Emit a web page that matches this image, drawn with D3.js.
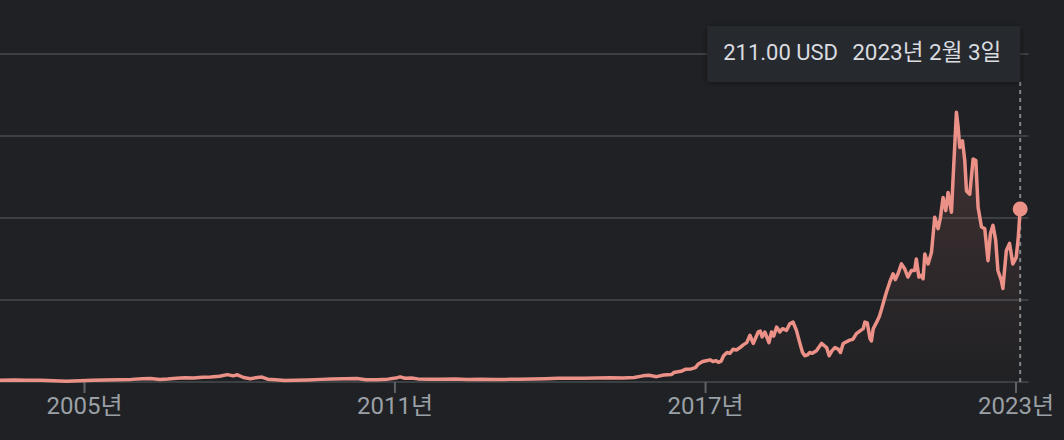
<!DOCTYPE html>
<html>
<head>
<meta charset="utf-8">
<script src="https://cdn.jsdelivr.net/npm/d3@7"></script>
<style>
  html, body { margin: 0; padding: 0; background: #202124; }
  svg { display: block; }
  text { font-family: Roboto, "Noto Sans CJK KR", "Noto Sans", sans-serif; }
</style>
</head>
<body>
<svg id="chart" width="1064" height="440"></svg>
<script>
// ---- data ----
const dates = [
  "2003-05-18","2003-09-01","2003-12-01","2004-03-01","2004-06-01","2004-09-01","2004-12-01",
  "2005-03-01","2005-06-01","2005-09-01","2005-12-01","2006-02-15","2006-04-15","2006-06-20",
  "2006-08-15","2006-10-15","2006-12-15","2007-02-15","2007-04-15","2007-06-15","2007-08-15",
  "2007-10-10","2007-11-20","2007-12-20","2008-02-01","2008-03-20","2008-05-10","2008-06-10",
  "2008-07-20","2008-09-15","2008-11-20","2009-02-01","2009-05-01","2009-08-01","2009-10-15",
  "2010-01-15","2010-04-10","2010-06-15","2010-09-01","2010-11-15","2011-01-10","2011-02-10",
  "2011-03-15","2011-05-01","2011-06-15","2011-09-01","2011-12-01","2012-03-01","2012-06-01",
  "2012-09-01","2012-12-01","2013-03-01","2013-06-01","2013-09-01","2013-12-01","2014-03-01",
  "2014-06-01","2014-09-01","2014-12-01","2015-03-01","2015-06-01","2015-08-20","2015-10-20",
  "2015-12-01","2016-01-25","2016-03-15","2016-05-10","2016-05-25","2016-07-15","2016-08-15",
  "2016-09-25","2016-10-25","2016-11-15","2016-12-15",
  "2017-01-10","2017-02-05","2017-02-25","2017-03-20","2017-04-05","2017-04-25","2017-05-12",
  "2017-06-05","2017-06-25","2017-07-19","2017-08-10","2017-09-05","2017-09-25","2017-10-22",
  "2017-11-14","2017-12-07","2018-01-11","2018-01-26","2018-02-08","2018-02-27","2018-03-28",
  "2018-04-15","2018-05-01","2018-05-21","2018-06-13","2018-07-02","2018-07-30","2018-08-22",
  "2018-09-14","2018-10-08","2018-10-31","2018-11-20","2018-12-06","2018-12-24","2019-01-10",
  "2019-01-28","2019-02-26","2019-04-03","2019-05-09","2019-05-27","2019-06-15","2019-07-06",
  "2019-07-30","2019-08-15","2019-09-03","2019-10-19","2019-11-10","2019-12-05","2020-01-22",
  "2020-02-03","2020-02-20","2020-03-10","2020-03-20","2020-04-02","2020-04-26","2020-05-15",
  "2020-05-31","2020-06-18","2020-07-05","2020-07-28","2020-08-20","2020-09-05","2020-09-24",
  "2020-10-18","2020-11-10","2020-12-03","2020-12-27","2021-01-19","2021-01-31","2021-02-18",
  "2021-03-05","2021-03-20","2021-04-01","2021-04-24","2021-05-18","2021-06-10","2021-07-04",
  "2021-07-20","2021-08-08","2021-08-27","2021-09-12","2021-10-06","2021-10-18","2021-11-10",
  "2021-11-22","2021-12-04","2021-12-23","2022-01-08","2022-01-20","2022-02-12","2022-03-08",
  "2022-03-27","2022-04-12","2022-05-06","2022-05-29","2022-06-21","2022-07-08","2022-07-26",
  "2022-08-14","2022-08-30","2022-09-23","2022-10-04","2022-10-28","2022-11-20","2022-12-13",
  "2023-01-06","2023-01-20","2023-02-03"
];
const prices = [
  2.0,2.3,2.0,2.1,1.5,1.0,1.5,
  2.0,2.3,2.7,3.2,4.0,4.4,3.0,
  3.6,4.6,5.2,5.0,5.8,6.2,7.0,
  9.0,7.5,8.8,5.5,4.0,5.5,6.0,
  3.5,2.8,1.7,2.0,2.5,3.2,3.6,
  4.0,4.3,2.8,2.6,3.5,4.8,6.3,
  4.6,5.0,3.8,3.3,3.5,3.7,3.1,
  3.4,3.0,3.2,3.5,3.8,4.0,4.5,
  4.7,4.7,5.0,5.3,5.0,5.5,7.5,
  8.2,6.5,8.5,9.2,11.5,13.0,15.5,
  16.0,17.5,22.0,25.0,
  26,27,25,26,24,25.5,32,
  36,35,40,39,42,45,48,
  57,47,61,62,55,61,48,
  61,56,67,61,65,63,71,
  73,63,48,36,32,33,36,
  35,38,47,42,32,38,42,
  40,36,47,51,52,59,65,
  73,72,53,50,65,73,80,
  89,100,110,122,132,125,132,
  144,138,128,136,136,150,128,
  130,126,156,144,158,201,187,
  200,225,209,231,207,250,329,
  311,286,294,270,233,229,272,
  270,213,189,187,148,181,191,
  173,136,124,114,160,169,144,
  152,175,211
];
const yTicks = [0, 100, 200, 300, 400];
const xTickYears = [2005, 2011, 2017, 2023];
const tooltipPrice = "211.00 USD";
const tooltipDate = "2023년 2월 3일";

// ---- chart ----
const parse = d3.timeParse("%Y-%m-%d");
const data = dates.map((d, i) => ({ date: parse(d), value: prices[i] }));

const svg = d3.select("#chart");
const plotRight = 1028.5;

const x = d3.scaleTime()
  .domain([new Date(2005, 0, 1), new Date(2023, 0, 1)])
  .range([84, 1015.5]);
const y = d3.scaleLinear().domain([0, 400]).range([382, 54]);

const defs = svg.append("defs");
const grad = defs.append("linearGradient")
  .attr("id", "areaGrad").attr("gradientUnits", "userSpaceOnUse")
  .attr("x1", 0).attr("x2", 0).attr("y1", y(330)).attr("y2", y(0));
grad.append("stop").attr("offset", "0%").attr("stop-color", "#f28b82").attr("stop-opacity", 0.17);
grad.append("stop").attr("offset", "100%").attr("stop-color", "#f28b82").attr("stop-opacity", 0.0);

const shadow = defs.append("filter").attr("id", "shadow")
  .attr("x", "-10%").attr("y", "-30%").attr("width", "120%").attr("height", "160%");
shadow.append("feDropShadow").attr("dx", 0).attr("dy", 1).attr("stdDeviation", 3)
  .attr("flood-color", "#000").attr("flood-opacity", 0.45);

// gridlines
svg.append("g").selectAll("line").data(yTicks).join("line")
  .attr("x1", 0).attr("x2", plotRight)
  .attr("y1", d => y(d)).attr("y2", d => y(d))
  .attr("stroke", "#3c4043").attr("stroke-width", 2);

// x axis
const xAxis = d3.axisBottom(x)
  .tickValues(xTickYears.map(yr => new Date(yr, 0, 1)))
  .tickFormat(d => d.getFullYear() + "년")
  .tickSize(11).tickPadding(4);
const gx = svg.append("g").attr("transform", `translate(0,${y(0)})`).call(xAxis);
gx.select(".domain").remove();
gx.selectAll(".tick line").attr("stroke", "#5f6368").attr("stroke-width", 2);
gx.selectAll(".tick text").attr("fill", "#9aa0a6").attr("font-size", 24)
  .style("font-family", 'Roboto, "Noto Sans CJK KR", sans-serif');

// area
const area = d3.area().x(d => x(d.date)).y0(y(0)).y1(d => y(d.value)).curve(d3.curveLinear);
svg.append("path").datum(data).attr("d", area).attr("fill", "url(#areaGrad)");

// hover dashed line
const last = data[data.length - 1];
svg.append("line")
  .attr("x1", x(last.date)).attr("x2", x(last.date))
  .attr("y1", 82).attr("y2", y(0))
  .attr("stroke", "#80868b").attr("stroke-width", 2).attr("stroke-dasharray", "4,4");

// line
const line = d3.line().x(d => x(d.date)).y(d => y(d.value)).curve(d3.curveLinear);
svg.append("path").datum(data).attr("d", line)
  .attr("fill", "none").attr("stroke", "#ec9187").attr("stroke-width", 3.5)
  .attr("stroke-linejoin", "round").attr("stroke-linecap", "round");

// end dot
svg.append("circle").attr("cx", x(last.date)).attr("cy", y(last.value)).attr("r", 7.5)
  .attr("fill", "#ec9187");

// tooltip
const tipRight = x(last.date);
const tip = svg.append("g");
tip.append("rect").attr("x", tipRight - 313).attr("y", 26).attr("width", 313).attr("height", 56)
  .attr("fill", "#28292d").attr("filter", "url(#shadow)");
tip.append("text").attr("x", tipRight - 297).attr("y", 60)
  .attr("fill", "#dadce0").attr("font-size", 22).text(tooltipPrice);
tip.append("text").attr("x", tipRight - 168).attr("y", 60)
  .attr("fill", "#dadce0").attr("font-size", 22.5).text(tooltipDate);
</script>
</body>
</html>
